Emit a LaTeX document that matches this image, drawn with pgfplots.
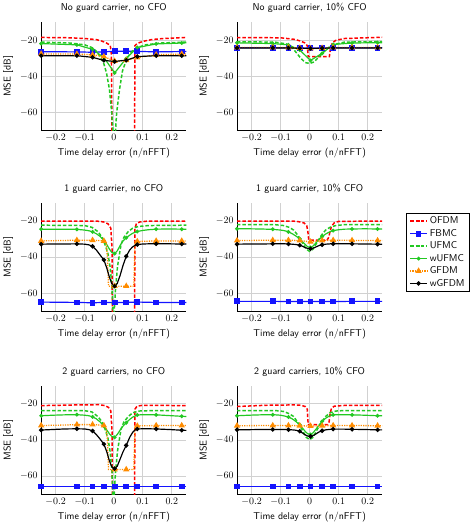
\documentclass[border=0pt]{standalone}
\usepackage{pgfplots}
\usepackage{pgfplotstable}
\pgfplotsset{compat=1.18}
\definecolor{mygreen}{RGB}{34,200,34}
\definecolor{myorange}{RGB}{255,140,0}
\definecolor{myblue}{RGB}{20,20,255}

\pgfplotsset{
  panel/.style={
    width=146.5pt, height=109.5pt, scale only axis,
    xmin=-0.25, xmax=0.25, ymin=-70, ymax=-10,
    xtick={-0.2,-0.1,0,0.1,0.2}, ytick={-60,-40,-20},
    grid=major, grid style={black!18, line width=0.7pt},
    axis x line*=bottom, axis y line*=left,
    axis line style={line width=0.8pt},
    tick style={draw=none},
    xlabel={Time delay error (n/nFFT)}, ylabel={MSE [dB]},
    label style={font=\sffamily}, title style={font=\sffamily},
    legend style={font=\sffamily},
    legend image post style={mark indices={2}},
    anchor=north west,
  },
  ofdm/.style={color=red, line width=1.5pt, dash pattern=on 3.5pt off 2pt, mark=none},
  fbmc/.style={color=myblue, line width=1.2pt, mark=square*, mark size=2.3pt, mark options={solid}},
  ufmc/.style={color=mygreen, line width=1.5pt, dash pattern=on 3.5pt off 2pt, mark=none},
  wufmc/.style={color=mygreen, line width=1.2pt, mark=*, mark size=1.3pt, mark options={solid}},
  gfdm/.style={color=myorange, line width=1.3pt, dash pattern=on 1.2pt off 1.2pt, mark=triangle*, mark size=2.4pt, mark options={solid}},
  wgfdm/.style={color=black, line width=1.2pt, mark=*, mark size=1.6pt, mark options={solid}},
  gm/.style={mark indices={1,4,7,10,14,18,22,25,27}},
  nm/.style={mark indices={1,2,3,4,5,6,7,8,9}},
  sm/.style={mark indices={1,3,4,6,10,11,14,15,16}},
}

% smooth curves: x, wUFMC, wGFDM
\pgfplotstableread{
x wufmc wgfdm
-0.25 -24.5 -32.8
-0.21 -24.5 -32.7
-0.17 -24.5 -32.7
-0.127 -24.6 -32.6
-0.10 -25.0 -32.8
-0.085 -25.4 -33.2
-0.073 -26.0 -34.0
-0.06 -27.0 -36.0
-0.047 -28.5 -38.8
-0.034 -30.8 -41.5
-0.024 -33.0 -46.0
-0.015 -35.5 -51.0
-0.007 -37.3 -54.5
0.003 -38.0 -56.0
0.012 -36.5 -54.5
0.022 -33.5 -50.0
0.032 -31.0 -44.5
0.043 -29.3 -39.5
0.055 -27.8 -36.0
0.065 -26.8 -34.3
0.072 -26.3 -33.6
0.081 -25.8 -33.0
0.10 -25.2 -32.7
0.12 -24.8 -32.6
0.146 -24.5 -32.6
0.19 -24.4 -32.6
0.234 -24.5 -32.7
0.25 -24.5 -32.7
}\tabC
\pgfplotstableread{
x wufmc wgfdm
-0.25 -24.3 -32.8
-0.21 -24.3 -32.7
-0.17 -24.4 -32.7
-0.127 -24.6 -32.6
-0.10 -25.0 -32.6
-0.085 -25.4 -32.6
-0.073 -26.0 -32.7
-0.06 -27.0 -32.8
-0.047 -28.3 -33.0
-0.034 -29.8 -33.4
-0.024 -31.5 -34.0
-0.015 -33.0 -34.7
-0.007 -34.2 -35.1
0.003 -34.6 -35.3
0.012 -33.8 -35.0
0.022 -32.0 -34.3
0.032 -30.2 -33.6
0.043 -28.6 -33.1
0.055 -27.2 -32.8
0.065 -26.3 -32.7
0.072 -25.8 -32.6
0.081 -25.3 -32.6
0.10 -24.8 -32.6
0.12 -24.5 -32.6
0.146 -24.4 -32.6
0.19 -24.3 -32.7
0.234 -24.4 -32.8
0.25 -24.4 -32.8
}\tabD
\pgfplotstableread{
x wufmc wgfdm
-0.25 -26.6 -34.5
-0.21 -26.3 -34.2
-0.17 -26.1 -33.9
-0.127 -26.0 -33.8
-0.10 -26.3 -33.9
-0.085 -26.6 -34.3
-0.073 -27.2 -35.0
-0.06 -28.3 -37.0
-0.047 -30.0 -39.5
-0.034 -32.3 -42.3
-0.024 -34.5 -46.5
-0.015 -36.6 -51.5
-0.007 -38.0 -54.8
0.003 -38.5 -55.8
0.012 -37.0 -54.5
0.022 -34.5 -50.5
0.032 -32.3 -46.5
0.043 -30.5 -43.0
0.055 -28.6 -38.5
0.065 -27.4 -35.8
0.072 -26.8 -34.6
0.081 -26.2 -33.9
0.10 -26.0 -33.8
0.12 -26.0 -33.8
0.146 -26.1 -33.9
0.19 -26.5 -34.2
0.234 -26.9 -34.6
0.25 -27.0 -34.7
}\tabE
\pgfplotstableread{
x wufmc wgfdm
-0.25 -26.6 -34.3
-0.21 -26.3 -34.3
-0.17 -26.1 -34.2
-0.127 -26.0 -34.2
-0.10 -26.3 -34.2
-0.085 -26.8 -34.2
-0.073 -27.3 -34.3
-0.06 -28.3 -34.4
-0.047 -29.8 -34.6
-0.034 -31.6 -35.2
-0.024 -33.5 -36.2
-0.015 -35.3 -37.2
-0.007 -36.5 -37.8
0.003 -37.0 -38.0
0.012 -36.0 -37.6
0.022 -34.0 -36.6
0.032 -31.8 -35.6
0.043 -29.7 -34.9
0.055 -28.0 -34.4
0.065 -27.0 -34.2
0.072 -26.5 -34.1
0.081 -26.1 -34.0
0.10 -26.0 -34.0
0.12 -26.0 -34.0
0.146 -26.1 -34.1
0.19 -26.3 -34.2
0.234 -26.6 -34.4
0.25 -26.6 -34.4
}\tabF

\begin{document}
\begin{tikzpicture}
% ---------------- Row 1, left
\begin{axis}[panel, at={(40.7pt,-20pt)}, title={No guard carrier, no CFO}]
\addplot[ofdm] coordinates {(-0.25,-18.4) (-0.15,-18.6) (-0.1,-19) (-0.06,-19.6) (-0.04,-20.5) (-0.025,-21.5) (-0.012,-22.8) (-0.008,-28) (-0.005,-100) (0.071,-100) (0.073,-23) (0.08,-21.8) (0.1,-20.6) (0.13,-19.6) (0.17,-19) (0.25,-18.4)};
\addplot[fbmc,nm] coordinates {(-0.25,-26.3) (-0.127,-26.4) (-0.073,-26.6) (-0.034,-26.4) (0.003,-26.0) (0.043,-26.0) (0.081,-26.1) (0.146,-26.4) (0.234,-26.2) (0.25,-26.2)};
\addplot[ufmc] coordinates {(-0.25,-21) (-0.15,-21.5) (-0.1,-22.5) (-0.075,-24) (-0.06,-26) (-0.045,-29.5) (-0.035,-32.5) (-0.025,-38) (-0.015,-47) (-0.007,-60) (0.002,-80) (0.01,-60) (0.02,-47) (0.03,-37) (0.045,-30) (0.06,-26.5) (0.08,-24) (0.11,-22.5) (0.16,-21.5) (0.25,-21)};
\addplot[wufmc,nm] coordinates {(-0.25,-21.8) (-0.127,-22.5) (-0.073,-25) (-0.034,-29.5) (0.003,-38) (0.043,-30) (0.081,-24) (0.146,-22) (0.234,-21.5) (0.25,-21.4)};
\addplot[gfdm,nm] coordinates {(-0.25,-27.5) (-0.127,-27.6) (-0.073,-28) (-0.034,-29) (0.003,-31.5) (0.043,-31) (0.081,-29.5) (0.146,-28) (0.234,-27.6) (0.25,-27.6)};
\addplot[wgfdm,nm] coordinates {(-0.25,-28.5) (-0.127,-28.5) (-0.073,-29.4) (-0.034,-31.1) (0.003,-31.7) (0.043,-31) (0.081,-29) (0.146,-28.5) (0.234,-28.5) (0.25,-28.5)};
\end{axis}
% ---------------- Row 1, right
\begin{axis}[panel, at={(238.3pt,-20pt)}, title={No guard carrier, 10\% CFO}]
\addplot[ofdm] coordinates {(-0.25,-18.5) (-0.1,-18.6) (-0.05,-19.5) (-0.03,-20.5) (-0.015,-21.5) (-0.008,-23) (-0.005,-29) (0.068,-29) (0.072,-24) (0.078,-21.5) (0.09,-20) (0.12,-19) (0.25,-18.3)};
\addplot[fbmc,nm] coordinates {(-0.25,-24.1) (-0.127,-24.1) (-0.073,-24.1) (-0.034,-24.2) (0.003,-24.2) (0.043,-24.2) (0.081,-24.1) (0.146,-24.1) (0.234,-24.1) (0.25,-24.1)};
\addplot[ufmc] coordinates {(-0.25,-20.8) (-0.12,-21) (-0.08,-22) (-0.06,-24) (-0.045,-27) (-0.03,-30) (-0.015,-32.3) (0.0,-32.8) (0.015,-32) (0.03,-29.5) (0.045,-27) (0.06,-24.5) (0.08,-22.5) (0.12,-21) (0.25,-20.7)};
\addplot[wufmc,nm] coordinates {(-0.25,-21.4) (-0.127,-21.8) (-0.073,-22.5) (-0.034,-25.4) (0.003,-31.1) (0.043,-27.2) (0.081,-22.3) (0.146,-21.5) (0.234,-21.3) (0.25,-21.3)};
\addplot[gfdm,nm] coordinates {(-0.25,-24) (-0.127,-24) (-0.073,-24) (-0.034,-24.3) (0.003,-24.6) (0.043,-24.3) (0.081,-24) (0.146,-24) (0.234,-24) (0.25,-24)};
\addplot[wgfdm,nm] coordinates {(-0.25,-24.2) (-0.127,-24.2) (-0.073,-24.2) (-0.034,-24.4) (0.003,-24.5) (0.043,-24.4) (0.081,-24.2) (0.146,-24.2) (0.234,-24.2) (0.25,-24.2)};
\end{axis}
% ---------------- Row 2, left
\begin{axis}[panel, at={(40.7pt,-202.3pt)}, title={1 guard carrier, no CFO}]
\addplot[ofdm] coordinates {(-0.25,-20) (-0.06,-20) (-0.035,-20.5) (-0.02,-21.5) (-0.01,-24) (-0.006,-35) (-0.004,-100) (0.071,-100) (0.073,-24) (0.078,-21.5) (0.09,-20.5) (0.12,-20) (0.25,-20)};
\addplot[fbmc,nm] coordinates {(-0.25,-64.8) (-0.127,-65) (-0.073,-65.2) (-0.034,-65) (0.003,-65) (0.043,-65) (0.081,-64.8) (0.146,-65) (0.234,-65) (0.25,-65)};
\addplot[ufmc] coordinates {(-0.25,-22.3) (-0.1,-22.5) (-0.075,-23.5) (-0.055,-25.8) (-0.04,-29) (-0.03,-33) (-0.02,-38) (-0.013,-45) (-0.006,-56) (-0.002,-80) (0.006,-58) (0.013,-45) (0.025,-33) (0.035,-29) (0.05,-25.8) (0.065,-24) (0.085,-23) (0.12,-22.5) (0.25,-22.3)};
\addplot[wufmc,gm] table[x=x,y=wufmc] {\tabC};
\addplot[gfdm,sm] coordinates {(-0.25,-31) (-0.19,-30.8) (-0.127,-30.6) (-0.073,-30.6) (-0.05,-30.8) (-0.034,-31) (-0.026,-32) (-0.022,-40) (-0.018,-56) (0.003,-56) (0.043,-56) (0.069,-56) (0.073,-31.5) (0.081,-31.3) (0.146,-31) (0.234,-31) (0.25,-31)};
\addplot[wgfdm,gm] table[x=x,y=wgfdm] {\tabC};
\end{axis}
% ---------------- Row 2, right (legend)
\begin{axis}[panel, at={(238.3pt,-202.3pt)}, title={1 guard carrier, 10\% CFO},
  legend style={at={(1.165,0.91)}, anchor=north west, draw=black, cells={anchor=west}}]
\addplot[ofdm] coordinates {(-0.25,-20) (-0.06,-20) (-0.04,-20.3) (-0.02,-21) (-0.01,-22.5) (-0.006,-26) (-0.003,-30.5) (0.06,-30.5) (0.066,-29) (0.07,-26) (0.075,-23) (0.085,-21) (0.1,-20.2) (0.25,-20)};
\addplot[fbmc,nm] coordinates {(-0.25,-64.4) (-0.127,-64.4) (-0.073,-64.5) (-0.034,-64.5) (0.003,-64.5) (0.043,-64.5) (0.081,-64.5) (0.146,-64.4) (0.234,-64.4) (0.25,-64.4)};
\addplot[ufmc] coordinates {(-0.25,-22) (-0.12,-22) (-0.09,-22.5) (-0.07,-23.5) (-0.055,-25) (-0.04,-28) (-0.025,-32) (-0.012,-35.5) (0.0,-36.8) (0.012,-35.5) (0.025,-32) (0.04,-28) (0.055,-25) (0.07,-23.5) (0.09,-22.5) (0.12,-22) (0.25,-22)};
\addplot[wufmc,gm] table[x=x,y=wufmc] {\tabD};
\addplot[gfdm,nm] coordinates {(-0.25,-30.8) (-0.127,-30.6) (-0.073,-30.6) (-0.034,-30.8) (0.003,-31.5) (0.043,-30.8) (0.081,-30.6) (0.146,-30.7) (0.234,-30.8) (0.25,-30.8)};
\addplot[wgfdm,gm] table[x=x,y=wgfdm] {\tabD};
\legend{OFDM,FBMC,UFMC,wUFMC,GFDM,wGFDM}
\end{axis}
% ---------------- Row 3, left
\begin{axis}[panel, at={(40.7pt,-386.7pt)}, title={2 guard carriers, no CFO}]
\addplot[ofdm] coordinates {(-0.25,-21) (-0.12,-20.6) (-0.05,-20.5) (-0.03,-21) (-0.018,-22) (-0.01,-24) (-0.006,-35) (-0.004,-100) (0.071,-100) (0.073,-23) (0.08,-21.3) (0.1,-20.8) (0.25,-21)};
\addplot[fbmc,nm] coordinates {(-0.25,-65.7) (-0.127,-65.7) (-0.073,-65.7) (-0.034,-65.7) (0.003,-65.7) (0.043,-65.7) (0.081,-65.7) (0.146,-65.7) (0.234,-65.7) (0.25,-65.7)};
\addplot[ufmc] coordinates {(-0.25,-23.7) (-0.1,-23.8) (-0.075,-24.5) (-0.055,-27) (-0.04,-30) (-0.03,-34) (-0.02,-39) (-0.013,-46) (-0.006,-57) (-0.002,-80) (0.006,-58) (0.013,-46) (0.025,-34) (0.035,-30) (0.05,-27) (0.065,-25) (0.085,-24) (0.12,-23.8) (0.25,-23.7)};
\addplot[wufmc,gm] table[x=x,y=wufmc] {\tabE};
\addplot[gfdm,sm] coordinates {(-0.25,-32) (-0.19,-31.8) (-0.127,-31.5) (-0.073,-31.5) (-0.05,-31.7) (-0.034,-32) (-0.026,-33) (-0.022,-40) (-0.018,-56.3) (0.003,-56.3) (0.043,-56.3) (0.069,-56.3) (0.073,-32.5) (0.081,-32.2) (0.146,-32) (0.234,-32) (0.25,-32)};
\addplot[wgfdm,gm] table[x=x,y=wgfdm] {\tabE};
\end{axis}
% ---------------- Row 3, right
\begin{axis}[panel, at={(238.3pt,-386.7pt)}, title={2 guard carriers, 10\% CFO}]
\addplot[ofdm] coordinates {(-0.25,-21.5) (-0.15,-20.8) (-0.05,-20.6) (-0.03,-20.8) (-0.015,-21.5) (-0.008,-23) (-0.005,-31.5) (0.062,-31.5) (0.067,-30) (0.07,-26) (0.075,-22.5) (0.085,-21.3) (0.12,-20.9) (0.25,-20.9)};
\addplot[fbmc,nm] coordinates {(-0.25,-65.7) (-0.127,-65.7) (-0.073,-65.7) (-0.034,-65.7) (0.003,-65.7) (0.043,-65.7) (0.081,-65.7) (0.146,-65.7) (0.234,-65.7) (0.25,-65.7)};
\addplot[ufmc] coordinates {(-0.25,-23.7) (-0.12,-23.7) (-0.09,-24.2) (-0.07,-25.5) (-0.055,-27) (-0.04,-30.5) (-0.025,-34.5) (-0.012,-38.5) (0.0,-39.8) (0.012,-38.5) (0.025,-34.5) (0.04,-30.5) (0.055,-27) (0.07,-25) (0.09,-24) (0.12,-23.7) (0.25,-23.7)};
\addplot[wufmc,gm] table[x=x,y=wufmc] {\tabF};
\addplot[gfdm,nm] coordinates {(-0.25,-32.1) (-0.127,-32) (-0.073,-32) (-0.034,-32.1) (0.003,-32.3) (0.043,-32.1) (0.081,-32) (0.146,-32) (0.234,-32.1) (0.25,-32.1)};
\addplot[wgfdm,gm] table[x=x,y=wgfdm] {\tabF};
\end{axis}
\end{tikzpicture}
\end{document}
